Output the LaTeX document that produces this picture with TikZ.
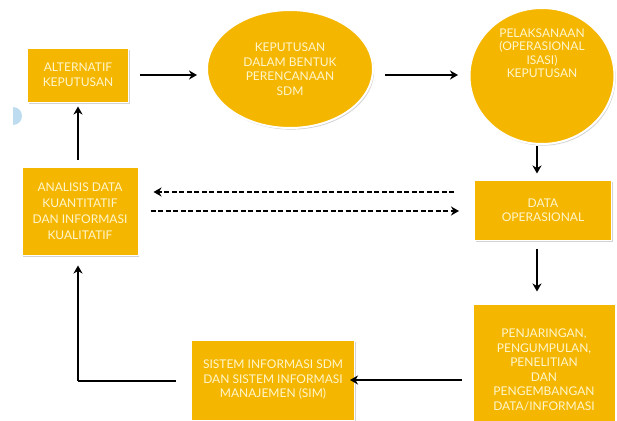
\documentclass[tikz,border=0pt]{standalone}
\usepackage{fontspec}
\setmainfont{Lato}
\usetikzlibrary{shapes.geometric,arrows.meta,shadows}
\definecolor{boxfill}{RGB}{245,182,0}
\definecolor{boxtext}{RGB}{255,246,205}
\definecolor{artblue}{RGB}{190,220,240}
\tikzset{
  base/.style={fill=boxfill, text=boxtext, align=center, inner sep=2pt,
    font=\fontsize{12}{14.5}\selectfont,
    drop shadow={shadow xshift=1.2pt, shadow yshift=-1.6pt, opacity=0.35}},
  rbox/.style={base, rectangle, draw=white, line width=1pt},
  ebox/.style={base, ellipse, draw=white, line width=2pt},
  tlabel/.style={text=boxtext, align=center, font=\fontsize{12}{13.5}\selectfont},
  tip/.style={-{Stealth[length=8pt,width=9pt,inset=2.5pt]}},
  arr/.style={draw=black, line width=2.2pt, tip},
  plain/.style={draw=black, line width=2.2pt},
  darr/.style={draw=black, line width=2.2pt, dash pattern=on 5pt off 2.5pt, tip}
}
\begin{document}
\begin{tikzpicture}[x=1pt,y=-1pt]
\useasboundingbox (0,0) rectangle (617,420);
\fill[white] (0,0) rectangle (617,420);
\begin{scope}
\clip (0,0) rectangle (617,420);
\begin{scope}
\clip (13,100) rectangle (30,135);
\fill[artblue] (13,116) circle (9);
\end{scope}
\node[rbox, minimum width=101, minimum height=54] (alt) at (78,75) {ALTERNATIF\\KEPUTUSAN};
\node[ebox, minimum width=166, minimum height=118] (kep) at (290,69) {KEPUTUSAN\\DALAM BENTUK\\PERENCANAAN\\SDM};
\node[ebox, minimum width=145, minimum height=136] (pel) at (542,76) {};
\node[tlabel] (pelt) at (542,53) {PELAKSANAAN\\(OPERASIONAL\\ISASI)\\KEPUTUSAN};
\node[rbox, minimum width=137, minimum height=60] (data) at (543,210) {DATA\\OPERASIONAL};
\node[rbox, minimum width=116, minimum height=88, font=\fontsize{12}{16}\selectfont] (ana) at (80,211) {ANALISIS DATA\\KUANTITATIF\\DAN INFORMASI\\KUALITATIF};
\node[rbox, minimum width=142, minimum height=132] (penj) at (544,370) {PENJARINGAN,\\PENGUMPULAN,\\PENELITIAN\\DAN\\PENGEMBANGAN\\DATA/INFORMASI};
\node[rbox, minimum width=163, minimum height=80] (sis) at (273,380) {SISTEM INFORMASI SDM\\DAN SISTEM INFORMASI\\MANAJEMEN (SIM)};
\end{scope}
\coordinate (a1) at (140,75);
\coordinate (a2) at (197,75);
\coordinate (b1) at (385,75);
\coordinate (b2) at (458,75);
\draw[arr] (a1) -- (a2);
\draw[arr] (b1) -- (b2);
\draw[arr] ([yshift=-1pt]pel.south -| 537,0) -- ([yshift=6pt]data.north -| 537,0);
\draw[arr] ([yshift=-8pt]data.south -| 537,0) -- ([yshift=12pt]penj.north -| 537,0);
\draw[arr] ([xshift=-11pt]penj.west |- 0,380) -- ([xshift=-5pt]sis.east |- 0,380);
\draw[plain] ([xshift=-15pt]sis.west |- 0,381) -- (78,381);
\draw[arr] (78,381) -- ([yshift=-10pt]ana.south -| 78,0);
\draw[arr] ([yshift=7pt]ana.north -| 78,0) -- ([yshift=-4pt]alt.south -| 78,0);
\draw[darr] ([xshift=-20pt]data.west |- 0,192) -- ([xshift=15pt]ana.east |- 0,192);
\draw[darr] ([xshift=12pt]ana.east |- 0,211) -- ([xshift=-15pt]data.west |- 0,211);
\end{tikzpicture}
\end{document}
